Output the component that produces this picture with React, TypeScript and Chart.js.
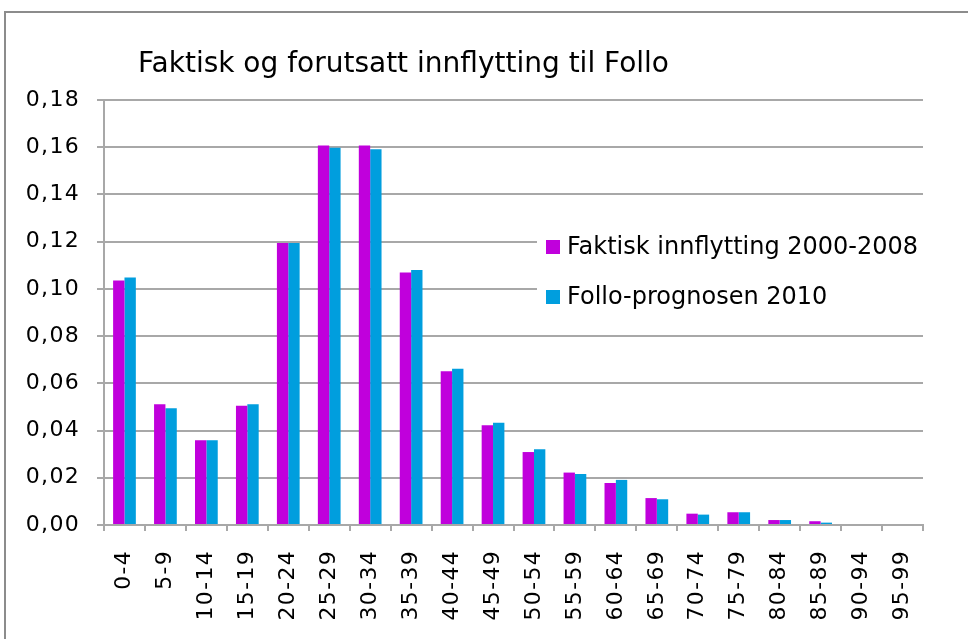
import React, { useEffect, useRef } from "react";
import { Chart, registerables } from "chart.js";

Chart.register(...registerables);

const TITLE = "Faktisk og forutsatt innflytting til Follo";
const categories = [
  "0-4", "5-9", "10-14", "15-19", "20-24", "25-29", "30-34", "35-39", "40-44", "45-49",
  "50-54", "55-59", "60-64", "65-69", "70-74", "75-79", "80-84", "85-89", "90-94", "95-99",
];
const seriesNames = ["Faktisk innflytting 2000-2008", "Follo-prognosen 2010"];
const faktisk = [
  0.1036, 0.0511, 0.0359, 0.0505, 0.1194, 0.1607, 0.1607, 0.1069, 0.0651, 0.0422,
  0.0309, 0.0222, 0.0178, 0.0114, 0.0048, 0.0054, 0.0021, 0.0016, 0, 0,
];
const prognose = [
  0.1048, 0.0494, 0.0359, 0.0511, 0.1194, 0.1598, 0.1591, 0.108, 0.0662, 0.0433,
  0.0321, 0.0216, 0.0191, 0.0109, 0.0044, 0.0054, 0.0021, 0.001, 0, 0,
];
const yTicks = { min: 0, max: 0.18, step: 0.02 };
const colors = ["#C000DC", "#009EDE"];

const FONT = "'DejaVu Sans', Verdana, sans-serif";

const spacingPlugin = {
  id: "axisSpacing",
  beforeDraw(chart: any) {
    (chart.ctx as any).letterSpacing = "1.3px";
  },
  beforeDatasetsDraw(chart: any) {
    (chart.ctx as any).letterSpacing = "0px";
  },
};

const titlePlugin = {
  id: "customTitle",
  afterDraw(chart: any) {
    const ctx = chart.ctx;
    ctx.save();
    (ctx as any).letterSpacing = "0px";
    ctx.font = `28px ${FONT}`;
    ctx.fillStyle = "#000";
    ctx.textBaseline = "alphabetic";
    ctx.textAlign = "left";
    ctx.fillText(TITLE, 138, 72);
    ctx.restore();
  },
};

const legendPlugin = {
  id: "customLegend",
  afterDatasetsDraw(chart: any) {
    const ctx = chart.ctx;
    ctx.save();
    (ctx as any).letterSpacing = "0px";
    ctx.fillStyle = "#fff";
    ctx.fillRect(537, 222, 400, 97);
    ctx.font = `24px ${FONT}`;
    ctx.textBaseline = "middle";
    ctx.textAlign = "left";
    chart.data.datasets.forEach((ds: any, i: number) => {
      const cy = 247 + i * 50;
      ctx.fillStyle = ds.backgroundColor;
      ctx.fillRect(546, cy - 7, 14, 14);
      ctx.fillStyle = "#000";
      ctx.fillText(ds.label, 567, cy + 1);
    });
    ctx.restore();
  },
};

export default function App() {
  const ref = useRef<HTMLCanvasElement>(null);
  useEffect(() => {
    if (!ref.current) return;
    const chart = new Chart(ref.current, {
      type: "bar",
      data: {
        labels: categories,
        datasets: [
          { label: seriesNames[0], data: faktisk, backgroundColor: colors[0], borderWidth: 0 },
          { label: seriesNames[1], data: prognose, backgroundColor: colors[1], borderWidth: 0 },
        ],
      },
      options: {
        animation: false,
        responsive: false,
        events: [],
        layout: { padding: { left: 0, top: 100, right: 45, bottom: 0 } },
        datasets: { bar: { categoryPercentage: 0.555, barPercentage: 1 } },
        plugins: { legend: { display: false }, title: { display: false }, tooltip: { enabled: false } },
        scales: {
          x: {
            offset: true,
            grid: { display: true, drawOnChartArea: false, drawTicks: true, tickLength: 6, color: "#a8a8a8", lineWidth: 2, offset: true },
            border: { display: true, color: "#a8a8a8", width: 2 },
            ticks: { font: { family: FONT, size: 22 }, color: "#000", minRotation: 90, maxRotation: 90, padding: 19, autoSkip: false },
            afterFit: (scale: any) => { scale.height = 114; },
          },
          y: {
            min: yTicks.min,
            max: yTicks.max,
            grid: { color: "#a8a8a8", lineWidth: 2, tickLength: 7, drawTicks: true },
            border: { display: true, color: "#a8a8a8", width: 2 },
            ticks: {
              stepSize: yTicks.step,
              font: { family: FONT, size: 22 },
              color: "#000",
              padding: 17,
              callback: (v: any) => Number(v).toFixed(2).replace(".", ","),
            },
            afterFit: (scale: any) => { scale.width = 104; },
          },
        },
      },
      plugins: [spacingPlugin, titlePlugin, legendPlugin],
    });
    return () => chart.destroy();
  }, []);
  return (
    <div style={{ position: "absolute", left: 0, top: 0, width: 968, height: 639, overflow: "hidden", background: "#fff" }}>
      <div style={{ position: "absolute", left: 4, top: 11, width: 1100, height: 800, border: "2px solid #8c8c8c" }} />
      <canvas ref={ref} width={968} height={639} style={{ position: "absolute", left: 0, top: 0 }} />
    </div>
  );
}
